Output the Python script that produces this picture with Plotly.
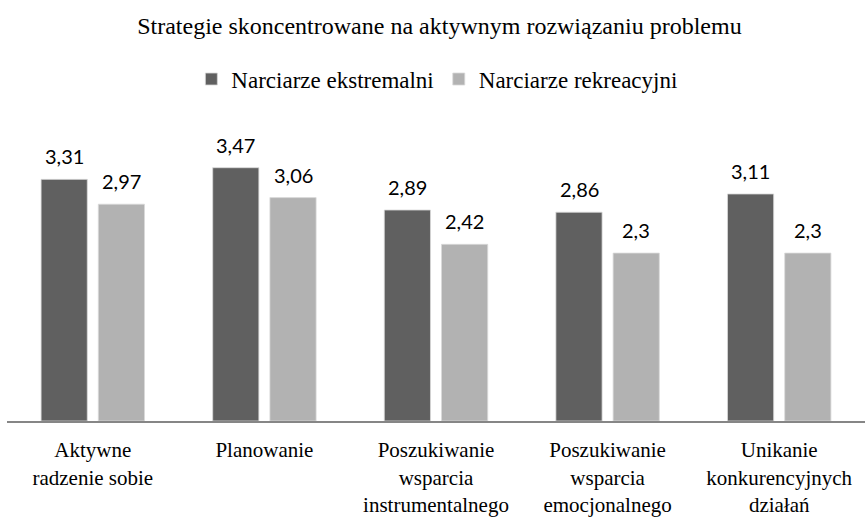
import plotly.graph_objects as go

categories = ["Aktywne<br>radzenie sobie", "Planowanie", "Poszukiwanie<br>wsparcia<br>instrumentalnego",
              "Poszukiwanie<br>wsparcia<br>emocjonalnego", "Unikanie<br>konkurencyjnych<br>działań"]
series_names = ["Narciarze ekstremalni", "Narciarze rekreacyjni"]
extreme = [3.31, 3.47, 2.89, 2.86, 3.11]
recreational = [2.97, 3.06, 2.42, 2.3, 2.3]
colors = ["#606060", "#b2b2b2"]

SERIF = "Liberation Serif"

def fmt(v):
    return ("%g" % v).replace(".", ",")

fig = go.Figure()
for name, vals, col in zip(series_names, [extreme, recreational], colors):
    fig.add_trace(go.Bar(x=categories, y=vals, name=name, marker_color=col,
                         marker_line=dict(color="#d9d9d9", width=0.8)))

annotations = []
for vals, shift in zip([extreme, recreational], [-28.6, 28.6]):
    for c, v in zip(categories, vals):
        annotations.append(dict(x=c, y=v, text=fmt(v), showarrow=False, xshift=shift,
                                yanchor="bottom", yshift=9,
                                font=dict(family="Lato", size=20, color="#000")))

fig.update_layout(
    width=865, height=518,
    margin=dict(l=7, r=0, t=129, b=97),
    paper_bgcolor="white", plot_bgcolor="white",
    font=dict(family=SERIF, size=22, color="#000"),
    title=dict(text="Strategie skoncentrowane na aktywnym rozwiązaniu problemu",
               x=0.508, xanchor="center", y=1 - 17 / 518, yanchor="top",
               font=dict(family=SERIF, size=24, color="#000")),
    legend=dict(orientation="h", x=0.501, xanchor="center", y=1.171, yref="paper",
                yanchor="middle", font=dict(family=SERIF, size=23, color="#000"),
                itemwidth=30, traceorder="normal"),
    bargap=0.333, bargroupgap=0.193,
    annotations=annotations,
    xaxis=dict(showline=True, linecolor="#868686", linewidth=2, ticks="",
               tickfont=dict(family=SERIF, size=21, color="#000"),
               ticklabelstandoff=9, fixedrange=True),
    yaxis=dict(range=[0, 4], visible=False, showgrid=False, zeroline=False, fixedrange=True),
)
fig.write_html("out.html", config={"displayModeBar": False},
               post_script="document.body.style.margin='0';")
